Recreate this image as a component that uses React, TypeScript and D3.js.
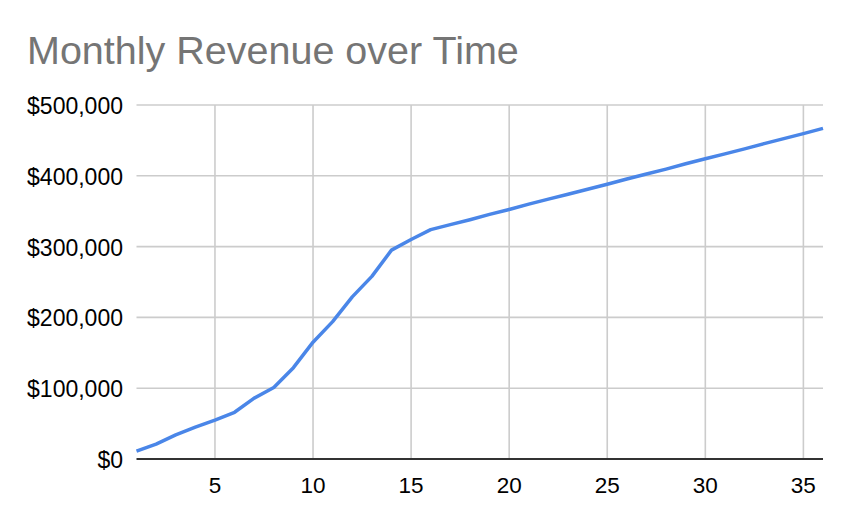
import React from "react";
import * as d3 from "d3";

const months = [1,2,3,4,5,6,7,8,9,10,11,12,13,14,15,16,17,18,19,20,21,22,23,24,25,26,27,28,29,30,31,32,33,34,35,36];
const revenue = [11000,21000,34000,45000,55000,66000,86000,101000,129000,165000,194000,229000,258000,295000,310000,324000,331000,338000,345500,352500,360000,367000,374000,381000,388000,395500,402500,409500,417000,424000,431000,438000,445500,452500,459500,467000];
const xTicks = [5,10,15,20,25,30,35];
const yTicks = [0,100000,200000,300000,400000,500000];
const title = "Monthly Revenue over Time";

const W = 850, H = 526;
const M = { left: 136.5, right: 823, top: 105, bottom: 459 };

export default function App() {
  const x = d3.scaleLinear().domain([1, 36]).range([M.left, M.right]);
  const y = d3.scaleLinear().domain([0, 500000]).range([M.bottom, M.top]);
  const line = d3.line<number>().x((_, i) => x(months[i])).y((d) => y(d));
  const fmt = (v: number) => "$" + d3.format(",")(v);
  const font = "Arial, 'Liberation Sans', sans-serif";
  return (
    <svg width={W} height={H} style={{ position: "absolute", left: 0, top: 0, background: "#fff" }}>
      <rect width={W} height={H} fill="#fff" />
      <text x={27} y={64} fill="#757575" fontFamily={font} fontSize={39.5}>{title}</text>
      {yTicks.filter((t) => t > 0).map((t) => (
        <line key={"h" + t} x1={M.left} x2={M.right} y1={y(t)} y2={y(t)} stroke="#cccccc" strokeWidth={1.6} />
      ))}
      {xTicks.map((t) => (
        <line key={"v" + t} x1={x(t)} x2={x(t)} y1={M.top} y2={M.bottom} stroke="#cccccc" strokeWidth={1.6} />
      ))}
      {yTicks.map((t) => (
        <text key={"yl" + t} x={123} y={y(t) + 9} textAnchor="end" fill="#000" fontFamily={font} fontSize={23}>{fmt(t)}</text>
      ))}
      {xTicks.map((t) => (
        <text key={"xl" + t} x={x(t)} y={493} textAnchor="middle" fill="#000" fontFamily={font} fontSize={22.5}>{t}</text>
      ))}
      <path d={line(revenue) || ""} fill="none" stroke="#4a86e8" strokeWidth={3.5} strokeLinejoin="round" />
      <line x1={M.left} x2={M.right} y1={M.bottom} y2={M.bottom} stroke="#333333" strokeWidth={2} />
    </svg>
  );
}
